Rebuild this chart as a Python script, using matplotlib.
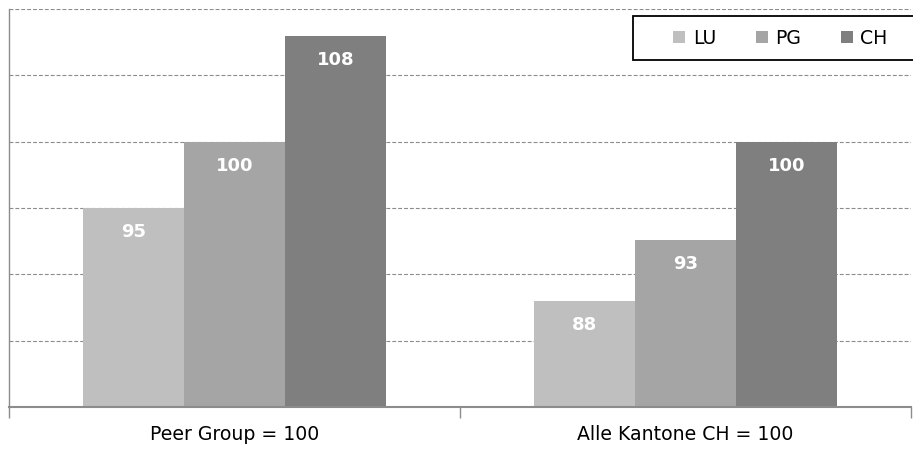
import numpy as np
from matplotlib import pyplot as plt
from matplotlib.patches import Rectangle

categories = ['Peer Group = 100', 'Alle Kantone CH = 100']
series = ['LU', 'PG', 'CH']
lu = [95, 88]
pg = [100, 92.6]
ch = [108, 100]
colors = ['#bfbfbf', '#a5a5a5', '#7f7f7f']

plt.rcParams['font.family'] = ['DejaVu Sans']

fig = plt.figure(figsize=(9.13, 4.54), dpi=100)
ax = fig.add_axes([9 / 913, 1 - 407 / 454, 902 / 913, 398 / 454])

x = np.arange(len(categories))
width = 0.224
for i, (name, vals) in enumerate(zip(series, [lu, pg, ch])):
    bars = ax.bar(x + (i - 1) * width, vals, width, color=colors[i],
                  label=name, zorder=2)
    for b, v in zip(bars, vals):
        ax.annotate(f"{round(v)}", (b.get_x() + b.get_width() / 2, v),
                    xytext=(0, -17.5), textcoords='offset points',
                    ha='center', va='center', color='white',
                    fontsize=13, fontweight='bold', zorder=3)

# axes format
ax.set_xlim(-0.5, 1.5)
ax.set_ylim(80, 110)
ax.set_yticks([85, 90, 95, 100, 105, 110])
ax.tick_params(axis='y', length=0, labelleft=False)
ax.yaxis.grid(True, color='#8c8c8c', linewidth=0.8, linestyle=(0, (3.5, 1.8)), zorder=1)
ax.set_axisbelow(True)

ax.set_xticks(x)
ax.set_xticklabels(categories, fontsize=13.6)
ax.tick_params(axis='x', which='major', length=0, pad=13)
ax.set_xticks([-0.5, 0.5, 1.5], minor=True)
ax.tick_params(axis='x', which='minor', length=8, width=1, color='#8c8c8c', direction='out')

for s in ['top', 'right']:
    ax.spines[s].set_visible(False)
ax.spines['left'].set_color('#8c8c8c')
ax.spines['left'].set_linewidth(1)
ax.spines['bottom'].set_color('#8c8c8c')
ax.spines['bottom'].set_linewidth(1.5)

# legend box, runs past the right edge like the original
fig.patches.append(Rectangle((633 / 913, 1 - 60 / 454), 300 / 913, 44 / 454,
                             transform=fig.transFigure, facecolor='white',
                             edgecolor='black', linewidth=1.3, zorder=5))
leg = fig.legend(loc='center left', bbox_to_anchor=(664 / 913, 1 - 38 / 454),
                 ncol=3, frameon=False, fontsize=13.6, borderpad=0,
                 handlelength=0.63, handleheight=0.63, handletextpad=0.4,
                 columnspacing=2.1)
leg.set_zorder(6)

fig.savefig('out.png', dpi=100)
